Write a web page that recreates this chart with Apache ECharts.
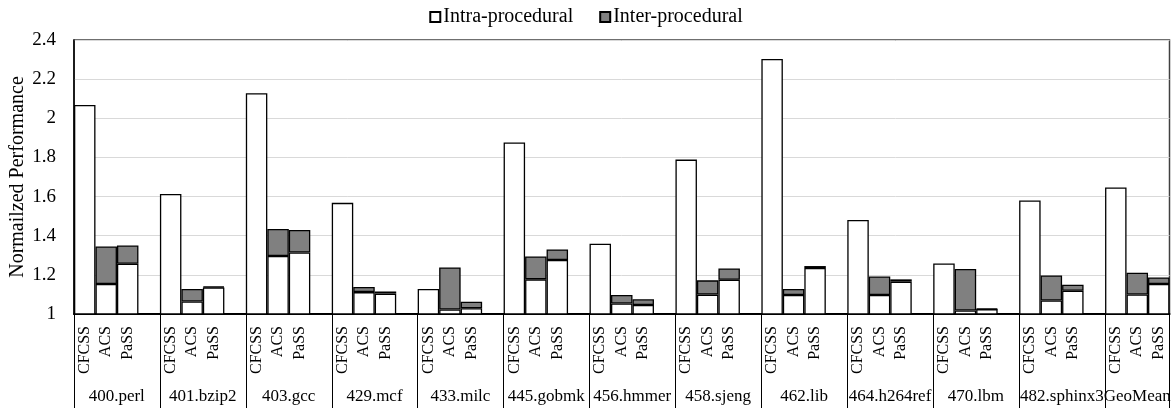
<!DOCTYPE html>
<html>
<head>
<meta charset="UTF-8"/>
<title></title>
<script src="https://cdn.jsdelivr.net/npm/echarts@6/dist/echarts.min.js"></script>
<style>
  html, body { margin: 0; padding: 0; background: #fff; }
  #chart { width: 1172px; height: 408px; }
</style>
</head>
<body>
<div id="chart"></div>
<script type="text/javascript">
var groups = ['400.perl', '401.bzip2', '403.gcc', '429.mcf', '433.milc', '445.gobmk', '456.hmmer',
  '458.sjeng', '462.lib', '464.h264ref', '470.lbm', '482.sphinx3', 'GeoMean'];
var schemes = ['CFCSS', 'ACS', 'PaSS'];

// intra-procedural part, and inter-procedural part stacked on top
var cfcssIntra = [2.068, 1.613, 2.128, 1.568, 1.128, 1.876, 1.359, 1.789, 2.303, 1.480, 1.258, 1.580, 1.646];
var acsIntra   = [1.153, 1.064, 1.296, 1.112, 1.023, 1.177, 1.054, 1.099, 1.097, 1.097, 1.018, 1.069, 1.100];
var acsInter   = [0.192, 0.064, 0.138, 0.026, 0.215, 0.117, 0.043, 0.073, 0.031, 0.095, 0.212, 0.128, 0.111];
var passIntra  = [1.257, 1.136, 1.314, 1.104, 1.029, 1.276, 1.046, 1.175, 1.235, 1.165, 1.025, 1.119, 1.153];
var passInter  = [0.093, 0.004, 0.115, 0.011, 0.034, 0.054, 0.029, 0.058, 0.010, 0.012, 0.003, 0.031, 0.034];

var yMin = 1, yMax = 2.4, yStep = 0.2;

// each group takes 4 slots: 3 bars + 1 empty gap (last gap is cut off in the picture)
var slotLabels = [], groupLabels = [], intraData = [], interData = [];
for (var g = 0; g < groups.length; g++) {
  var intra = [cfcssIntra[g], acsIntra[g], passIntra[g]];
  var inter = ['-', acsInter[g], passInter[g]];
  for (var s = 0; s < 3; s++) {
    slotLabels.push(schemes[s]);
    groupLabels.push(s === 1 ? groups[g] : '');
    intraData.push(intra[s]);
    interData.push(inter[s]);
  }
  if (g < groups.length - 1) {
    slotLabels.push('');
    groupLabels.push('');
    intraData.push('-');
    interData.push('-');
  }
}

var font = 'Liberation Serif';
var chart = echarts.init(document.getElementById('chart'));
var option = {
  animation: false,
  legend: {
    top: 2,
    left: 'center',
    itemWidth: 10,
    itemHeight: 10,
    itemGap: 26,
    icon: 'rect',
    selectedMode: false,
    textStyle: { fontFamily: font, fontSize: 20, color: '#000', padding: [0, 0, 0, -2] },
    data: ['Intra-procedural', 'Inter-procedural']
  },
  grid: {
    left: 74, top: 40, right: 2.5, bottom: 94,
    outerBoundsMode: 'none',
    containLabel: false,
    show: true, borderColor: '#404040', borderWidth: 1.5
  },
  xAxis: [{
    type: 'category',
    data: slotLabels,
    axisLine: { lineStyle: { color: '#000', width: 2 } },
    axisTick: { show: false },
    axisLabel: { interval: 0, rotate: 90, margin: 12, fontFamily: font, fontSize: 16, color: '#000' }
  }, {
    type: 'category',
    position: 'bottom',
    data: groupLabels,
    axisLine: { show: false },
    axisTick: {
      show: true, length: 100,
      interval: function (index) { return index % 4 === 0; },
      lineStyle: { color: '#000', width: 1 }
    },
    axisLabel: {
      interval: 0, margin: 74, fontFamily: font, fontSize: 17, color: '#000',
      formatter: function (value) {
        if (!value) return '';
        return value === 'GeoMean' ? '{m|' + value + '}' : '{s|' + value + '}';
      },
      rich: {
        s: { fontFamily: font, fontSize: 17, color: '#000', padding: [0, 0, 0, 21] },
        m: { fontFamily: font, fontSize: 17, color: '#000' }
      }
    }
  }],
  yAxis: {
    type: 'value',
    min: yMin, max: yMax, interval: yStep,
    name: 'Normailzed Performance',
    nameLocation: 'middle',
    nameGap: 46,
    nameMoveOverlap: false,
    nameTextStyle: { fontFamily: font, fontSize: 20, color: '#000' },
    axisLine: { show: true, lineStyle: { color: '#000', width: 1.5 } },
    axisTick: { show: false },
    splitLine: { lineStyle: { color: '#d9d9d9', width: 1 } },
    axisLabel: { margin: 18, fontFamily: font, fontSize: 19, color: '#000' }
  },
  series: [{
    name: 'Intra-procedural',
    type: 'bar',
    stack: 'total',
    barWidth: '100%',
    data: intraData,
    itemStyle: { color: '#fff', borderColor: '#000', borderWidth: 1.3 }
  }, {
    name: 'Inter-procedural',
    type: 'bar',
    stack: 'total',
    barWidth: '100%',
    data: interData,
    itemStyle: { color: '#808080', borderColor: '#000', borderWidth: 1.3 }
  }]
};
chart.setOption(option);
</script>
</body>
</html>
